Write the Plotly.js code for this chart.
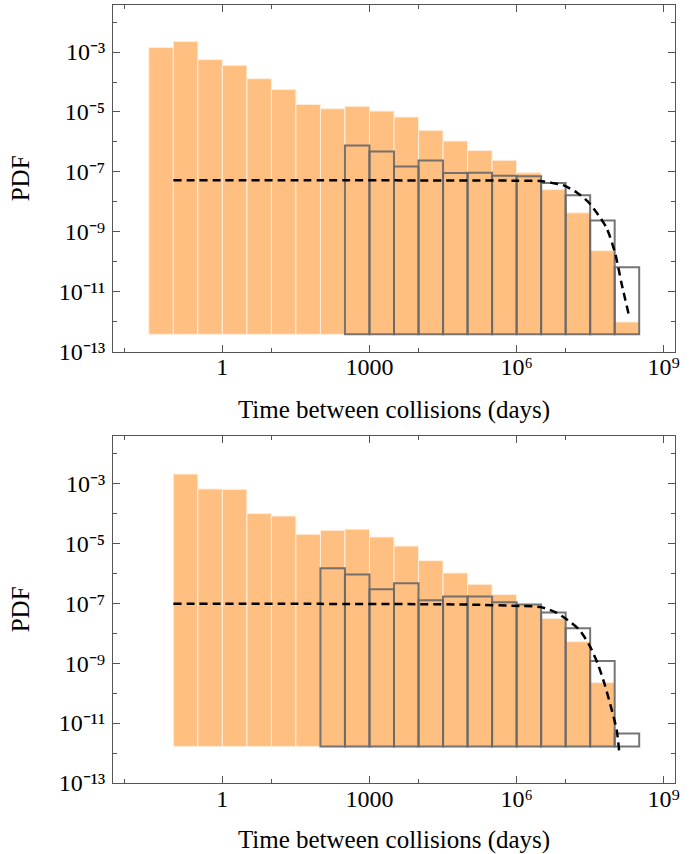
<!DOCTYPE html>
<html>
<head>
<meta charset="utf-8">
<script src="https://cdn.plot.ly/plotly-3.0.1.min.js"></script>
<style>
  html, body { margin: 0; padding: 0; background: #ffffff; }
  #chart { width: 695px; height: 854px; }
</style>
</head>
<body>
<div id="chart"></div>
<script>
// ---------- data (x in log10(days), bin width 0.5 decade) ----------
const BIN_W = 0.5;

// Top panel
const topOrangeBinLeft = [-1.5,-1,-0.5,0,0.5,1,1.5,2,2.5,3,3.5,4,4.5,5,5.5,6,6.5,7,7.5,8];
const topOrangePDF = [1.41e-3,2.24e-3,5.6e-4,3.6e-4,1.29e-4,5.6e-5,1.78e-5,1.29e-5,1.55e-5,1.07e-5,
                      6.8e-6,2.45e-6,1.07e-6,5.2e-7,2.45e-7,9.3e-8,2.57e-8,4.3e-9,2.34e-10,9.8e-13];
const topGrayBinLeft = [2.5,3,3.5,4,4.5,5,5.5,6,6.5,7,7.5,8];
const topGrayPDF = [7.6e-7,4.8e-7,1.51e-7,2.4e-7,9.1e-8,9.3e-8,7.4e-8,7.2e-8,4.3e-8,1.66e-8,2.4e-9,6.6e-11];
const topBase = 3.8e-13;
const topFitX = [-1.0,2.0,4.0,6.0,6.48,6.72,6.95,7.22,7.46,7.67,7.84,8.01,8.14,8.29];
const topFitPDF = [5.25e-8,5.25e-8,5.2e-8,5.1e-8,5.0e-8,4.3e-8,3.6e-8,2.1e-8,1.0e-8,3.6e-9,1.3e-9,1.9e-10,1.9e-11,1.66e-12];

// Bottom panel
const botOrangeBinLeft = [-1,-0.5,0,0.5,1,1.5,2,2.5,3,3.5,4,4.5,5,5.5,6,6.5,7,7.5];
const botOrangePDF = [2.04e-3,6.5e-4,6.3e-4,9.8e-5,8.1e-5,2.0e-5,2.7e-5,2.95e-5,1.62e-5,8.1e-6,
                      2.63e-6,1.02e-6,4.3e-7,1.95e-7,8.7e-8,3.1e-8,5.2e-9,2.24e-10];
const botGrayBinLeft = [2,2.5,3,3.5,4,4.5,5,5.5,6,6.5,7,7.5,8];
const botGrayPDF = [1.48e-6,9.1e-7,2.95e-7,4.6e-7,1.26e-7,1.66e-7,1.66e-7,1.07e-7,9.1e-8,4.9e-8,1.45e-8,1.17e-9,4.5e-12];
const botBase = 1.66e-12;
const botFitX = [-1.0,2.0,4.0,5.0,6.07,6.5,6.8,7.04,7.28,7.48,7.65,7.79,7.94,8.04,8.09];
const botFitPDF = [9.5e-8,9.5e-8,9.3e-8,9.0e-8,8.1e-8,7.4e-8,4.9e-8,2.75e-8,1.29e-8,4.1e-9,1.0e-9,2.1e-10,2.75e-11,6.0e-12,1.23e-12];

// Tick labels
const xTickVals = [0,3,6,9];
const xTickText = ['1','1000','10\u2076','10\u2079'];
const xMinorVals = [-2,1,4,7];
const yTickVals = [1e-13,1e-11,1e-9,1e-7,1e-5,1e-3];
const yTickText = ['10\u207B\u00B9\u00B3','10\u207B\u00B9\u00B9','10\u207B\u2079','10\u207B\u2077','10\u207B\u2075','10\u207B\u00B3'];
const yMinorVals = [1e-12,1e-10,1e-8,1e-6,1e-4,1e-2];

// ---------- traces ----------
const ORANGE = '#FFBF80';
function centers(left) { return left.map(v => v + BIN_W / 2); }
function orangeBars(left, pdf, base, xa, ya) {
  return {
    type: 'bar', x: centers(left), y: pdf.map(v => v - base), base: base,
    width: BIN_W, xaxis: xa, yaxis: ya,
    marker: { color: ORANGE, line: { color: 'rgba(255,238,220,1)', width: 1 } },
    hoverinfo: 'skip', showlegend: false
  };
}
function grayBars(left, pdf, base, xa, ya) {
  return {
    type: 'bar', x: centers(left), y: pdf.map(v => v - base), base: base,
    width: BIN_W, xaxis: xa, yaxis: ya,
    marker: { color: 'rgba(0,0,0,0)', line: { color: 'rgba(105,105,105,0.92)', width: 2 } },
    hoverinfo: 'skip', showlegend: false
  };
}
function fitLine(x, pdf, xa, ya) {
  return {
    type: 'scatter', mode: 'lines', x: x, y: pdf, xaxis: xa, yaxis: ya,
    line: { color: '#000000', width: 2.5, dash: '8px,5px', shape: 'spline', smoothing: 0.7 },
    hoverinfo: 'skip', showlegend: false
  };
}

const data = [
  orangeBars(topOrangeBinLeft, topOrangePDF, topBase, 'x', 'y'),
  grayBars(topGrayBinLeft, topGrayPDF, topBase, 'x', 'y'),
  fitLine(topFitX, topFitPDF, 'x', 'y'),
  orangeBars(botOrangeBinLeft, botOrangePDF, botBase, 'x2', 'y2'),
  grayBars(botGrayBinLeft, botGrayPDF, botBase, 'x2', 'y2'),
  fitLine(botFitX, botFitPDF, 'x2', 'y2')
];

// ---------- layout ----------
const FONT = 'Liberation Serif';
const AX_COLOR = '#555555';
function xAxis(domainAnchor) {
  return {
    anchor: domainAnchor, type: 'linear', range: [-2.23, 9.23],
    tickmode: 'array', tickvals: xTickVals, ticktext: xTickText,
    ticks: 'inside', ticklen: 7, tickwidth: 1, tickcolor: AX_COLOR,
    minor: { tickmode: 'array', tickvals: xMinorVals, ticks: 'inside', ticklen: 4, tickwidth: 1, tickcolor: AX_COLOR },
    showline: true, linecolor: AX_COLOR, linewidth: 1, mirror: 'allticks',
    showgrid: false, zeroline: false, ticklabelstandoff: -6,
    tickfont: { family: FONT, size: 24, color: '#000' },
    title: { text: 'Time between collisions (days)', font: { family: FONT, size: 25, color: '#000' }, standoff: 21 },
    fixedrange: true
  };
}
function yAxis(domain, range, anchor) {
  return {
    anchor: anchor, domain: domain, type: 'log', range: range,
    tickmode: 'array', tickvals: yTickVals, ticktext: yTickText,
    ticks: 'inside', ticklen: 7, tickwidth: 1, tickcolor: AX_COLOR,
    minor: { tickmode: 'array', tickvals: yMinorVals, ticks: 'inside', ticklen: 4, tickwidth: 1, tickcolor: AX_COLOR },
    showline: true, linecolor: AX_COLOR, linewidth: 1, mirror: 'allticks',
    showgrid: false, zeroline: false, ticklabelstandoff: 2,
    tickfont: { family: FONT, size: 24, color: '#000' },
    title: { text: 'PDF', font: { family: FONT, size: 25, color: '#000' }, standoff: 22 },
    fixedrange: true
  };
}

const layout = {
  width: 695, height: 854,
  margin: { l: 113, r: 20, t: 5, b: 71 },
  paper_bgcolor: '#ffffff', plot_bgcolor: '#ffffff',
  barmode: 'overlay', bargap: 0,
  showlegend: false,
  font: { family: FONT, color: '#000' },
  xaxis: xAxis('y'),
  yaxis: yAxis([0.5544, 1], [-13, -1.43], 'x'),
  xaxis2: xAxis('y2'),
  yaxis2: yAxis([0, 0.4464], [-13, -1.41], 'x2')
};

Plotly.newPlot('chart', data, layout, { staticPlot: true, displayModeBar: false });
</script>
</body>
</html>
